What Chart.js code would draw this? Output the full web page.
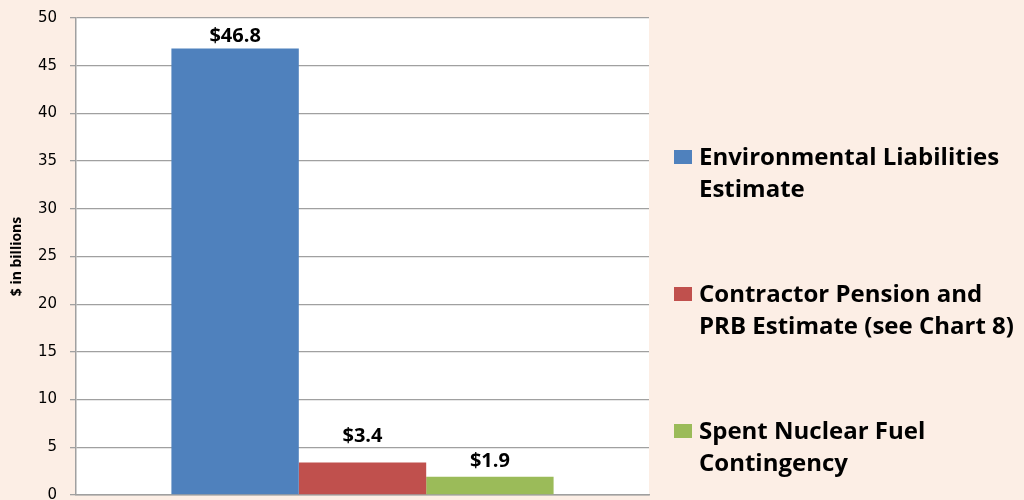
<!DOCTYPE html>
<html>
<head>
<meta charset="utf-8">
<script src="https://cdn.jsdelivr.net/npm/chart.js@4.4.0/dist/chart.umd.min.js"></script>
<style>
  html, body { margin: 0; padding: 0; background: #FCEEE5; overflow: hidden; }
  #wrap { position: relative; width: 1024px; height: 500px; }
</style>
</head>
<body>
<div id="wrap"><canvas id="c"></canvas></div>
<script>
const categories = [''];
const seriesNames = [
  'Environmental Liabilities Estimate',
  'Contractor Pension and PRB Estimate (see Chart 8)',
  'Spent Nuclear Fuel Contingency'
];
const legendLines = [
  ['Environmental Liabilities', 'Estimate'],
  ['Contractor Pension and', 'PRB Estimate (see Chart 8)'],
  ['Spent Nuclear Fuel', 'Contingency']
];
const seriesValues = [[46.8], [3.4], [1.9]];
const valueLabels = ['$46.8', '$3.4', '$1.9'];
const seriesColors = ['#4F81BD', '#C0504D', '#9BBB59'];
const yTicks = { min: 0, max: 50, step: 5 };
const yTitle = '$ in billions';

const plotBg = {
  id: 'plotBg',
  beforeDraw(chart) {
    const { ctx, chartArea: a } = chart;
    ctx.save();
    ctx.fillStyle = '#FFFFFF';
    ctx.fillRect(a.left, a.top, a.right - a.left, a.bottom - a.top);
    ctx.restore();
  }
};

const valueLabelPlugin = {
  id: 'valueLabels',
  afterDatasetsDraw(chart, args, opts) {
    const { ctx } = chart;
    ctx.save();
    ctx.font = 'bold 20px "Open Sans"';
    ctx.fillStyle = '#000';
    ctx.textAlign = 'center';
    ctx.textBaseline = 'bottom';
    chart.data.datasets.forEach((ds, i) => {
      const meta = chart.getDatasetMeta(i);
      meta.data.forEach((bar) => {
        ctx.fillText(valueLabels[i], bar.x, bar.y - opts.offsets[i]);
      });
    });
    ctx.restore();
  }
};

const sideLegend = {
  id: 'sideLegend',
  afterDraw(chart, args, opts) {
    const { ctx } = chart;
    ctx.save();
    ctx.font = 'bold 24px "Open Sans"';
    ctx.textBaseline = 'middle';
    ctx.textAlign = 'left';
    chart.data.datasets.forEach((ds, i) => {
      const cy = opts.firstY + i * opts.spacing;
      ctx.fillStyle = ds.backgroundColor;
      ctx.fillRect(opts.boxX, cy - 7, 18, 14);
      ctx.fillStyle = '#000';
      legendLines[i].forEach((l, k) => ctx.fillText(l, opts.textX, cy + 1 + k * opts.lineH));
    });
    ctx.restore();
  }
};

new Chart(document.getElementById('c'), {
  type: 'bar',
  data: {
    labels: categories,
    datasets: seriesNames.map((n, i) => ({
      label: n,
      data: seriesValues[i],
      backgroundColor: seriesColors[i],
      borderWidth: 0,
      categoryPercentage: 0.667,
      barPercentage: 1.0
    }))
  },
  options: {
    responsive: true,
    maintainAspectRatio: false,
    animation: false,
    layout: { padding: { left: 0, right: 375, top: 18, bottom: 5 } },
    plugins: {
      legend: { display: false },
      tooltip: { enabled: false },
      valueLabels: { offsets: [2, 16, 6] },
      sideLegend: { boxX: 674, textX: 699, firstY: 157, spacing: 137, lineH: 32 }
    },
    scales: {
      x: {
        grid: { display: false },
        ticks: { display: false },
        border: { display: true, color: '#A0A0A0', width: 1.5 },
        afterFit(s) { s.height = 0; }
      },
      y: {
        min: yTicks.min,
        max: yTicks.max,
        ticks: { stepSize: yTicks.step, color: '#000', font: { family: 'DejaVu Sans', size: 15 }, padding: 13 },
        grid: { color: '#A0A0A0', lineWidth: 1.3, tickLength: 6, drawTicks: true },
        border: { display: true, color: '#A0A0A0', width: 1.5 },
        title: { display: true, text: yTitle, color: '#000', font: { family: 'Open Sans', weight: 'bold', size: 14 }, padding: { top: 9, bottom: 0 } },
        afterFit(s) { s.width = 76; s.paddingTop = 0; s.paddingBottom = 0; }
      }
    }
  },
  plugins: [plotBg, valueLabelPlugin, sideLegend]
});
</script>
</body>
</html>
